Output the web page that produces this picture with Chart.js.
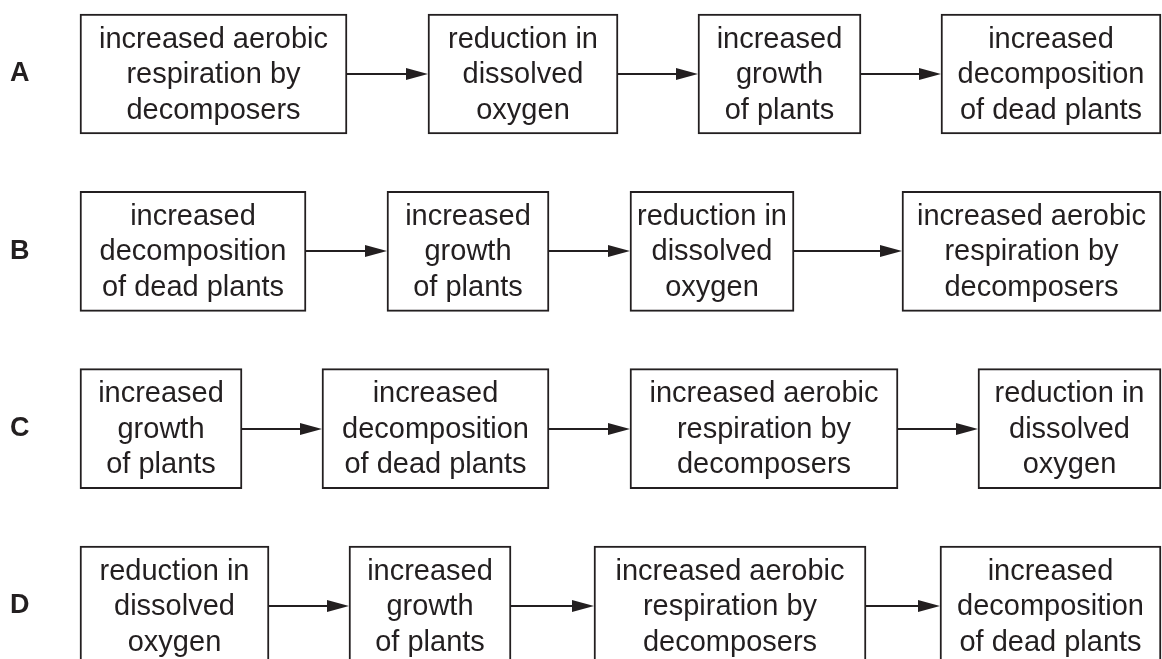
<!DOCTYPE html>
<html>
<head>
<meta charset="utf-8">
<script src="https://cdn.jsdelivr.net/npm/chart.js@4/dist/chart.umd.min.js"></script>
<style>
html,body{margin:0;padding:0;background:#fff;overflow:hidden;}
#wrap{width:1162px;height:659px;position:relative;}
</style>
</head>
<body>
<div id="wrap"><canvas id="c" width="1162" height="659"></canvas></div>
<script>
// Row labels (options)
const options = ['A', 'B', 'C', 'D'];

// Stage texts
const AEROBIC = ['increased aerobic', 'respiration by', 'decomposers'];
const OXYGEN = ['reduction in', 'dissolved', 'oxygen'];
const GROWTH = ['increased', 'growth', 'of plants'];
const DECOMP = ['increased', 'decomposition', 'of dead plants'];

// Sequence of stages in each option
const seqA = [AEROBIC, OXYGEN, GROWTH, DECOMP];
const seqB = [DECOMP, GROWTH, OXYGEN, AEROBIC];
const seqC = [GROWTH, DECOMP, AEROBIC, OXYGEN];
const seqD = [OXYGEN, GROWTH, AEROBIC, DECOMP];

// Horizontal extent of each stage box along the flow axis (0..1162)
const spanA = [[80, 347], [428, 618], [698, 861], [941, 1161]];
const spanB = [[80, 306], [387, 549], [630, 794], [902, 1161]];
const spanC = [[80, 242], [322, 549], [630, 898], [978, 1161]];
const spanD = [[80, 269], [349, 511], [594, 866], [940, 1161]];

const INK = '#231f20';
const seqs = [seqA, seqB, seqC, seqD];
const spans = [spanA, spanB, spanC, spanD];

const datasets = [0, 1, 2, 3].map(k => ({
  label: 'stage ' + (k + 1),
  data: spans.map(s => s[k]),
  texts: seqs.map(s => s[k]),
  backgroundColor: '#ffffff',
  borderColor: INK,
  borderWidth: 2,
  borderSkipped: false,
  barThickness: 120,
  grouped: false,
  clip: false
}));

const flowPlugin = {
  id: 'flow',
  afterDatasetsDraw(chart) {
    const ctx = chart.ctx;
    ctx.save();
    // arrows
    ctx.strokeStyle = INK;
    ctx.fillStyle = INK;
    ctx.lineWidth = 2;
    for (let r = 0; r < options.length; r++) {
      for (let k = 0; k < 3; k++) {
        const a = chart.getDatasetMeta(k).data[r];
        const b = chart.getDatasetMeta(k + 1).data[r];
        const x1 = Math.max(a.x, a.base);
        const x2 = Math.min(b.x, b.base);
        const y = Math.round(a.y);
        ctx.beginPath();
        ctx.moveTo(x1, y);
        ctx.lineTo(x2 - 18, y);
        ctx.stroke();
        ctx.beginPath();
        ctx.moveTo(x2, y);
        ctx.lineTo(x2 - 22, y - 6);
        ctx.lineTo(x2 - 22, y + 6);
        ctx.closePath();
        ctx.fill();
      }
    }
    // texts
    ctx.font = '29px "Liberation Sans", Arial, sans-serif';
    ctx.textAlign = 'center';
    ctx.textBaseline = 'middle';
    chart.data.datasets.forEach((ds, k) => {
      const meta = chart.getDatasetMeta(k);
      meta.data.forEach((el, r) => {
        const cx = (el.x + el.base) / 2;
        const lines = ds.texts[r];
        const lh = 35.5;
        lines.forEach((t, i) => {
          ctx.fillText(t, cx, el.y + (i - (lines.length - 1) / 2) * lh + 1);
        });
      });
    });
    ctx.restore();
  }
};

new Chart(document.getElementById('c'), {
  type: 'bar',
  data: { labels: options, datasets },
  options: {
    indexAxis: 'y',
    responsive: false,
    animation: false,
    devicePixelRatio: 1,
    layout: { padding: { top: 74, bottom: 53, left: 0, right: 0 } },
    plugins: { legend: { display: false }, tooltip: { enabled: false } },
    scales: {
      x: { type: 'linear', min: 0, max: 1162, display: false },
      y: {
        type: 'category',
        offset: false,
        grid: { display: false, offset: false },
        border: { display: false },
        ticks: {
          mirror: true,
          padding: 10,
          color: INK,
          font: { family: '"Liberation Sans", Arial, sans-serif', size: 27, weight: 'bold' }
        },
        afterFit(scale) { scale.width = 0; }
      }
    }
  },
  plugins: [flowPlugin]
});
</script>
</body>
</html>
